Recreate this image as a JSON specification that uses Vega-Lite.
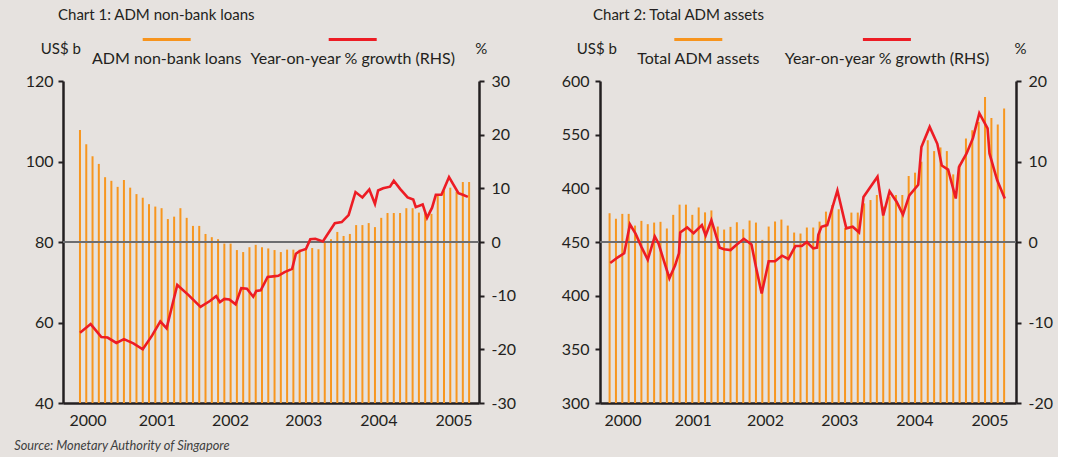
{
  "$schema": "https://vega.github.io/schema/vega-lite/v6.json",
  "background": "#e6e2df",
  "padding": {"left": 13, "top": 8, "right": 5, "bottom": 5},
  "config": {
    "view": {"stroke": null},
    "font": "Lato",
    "title": {"anchor": "start", "frame": "group", "fontSize": 15, "fontWeight": "normal", "color": "#231f20", "font": "Lato"},
    "axis": {"grid": false, "domainColor": "#231f20", "domainWidth": 2.5, "tickColor": "#231f20", "tickWidth": 2, "tickSize": 5, "labelFontSize": 16, "labelColor": "#231f20", "labelFont": "Lato", "titleFont": "Lato", "titleFontWeight": "normal", "titleFontSize": 15, "titleColor": "#231f20", "labelFlush": false, "labelOverlap": false},
    "legend": {"labelFont": "Lato", "labelFontSize": 16, "labelColor": "#231f20", "labelLimit": 400}
  },
  "resolve": {"scale": {"fill": "independent", "stroke": "independent"}, "legend": {"fill": "independent", "stroke": "independent"}},
  "datasets": {
    "loans": [
      {"t":0,"v":107.8},{"t":1,"v":104.3},{"t":2,"v":101.3},{"t":3,"v":99.4},{"t":4,"v":96.1},{"t":5,"v":95.2},{"t":6,"v":93.7},{"t":7,"v":95.4},{"t":8,"v":93.5},{"t":9,"v":91.9},
      {"t":10,"v":91.0},{"t":11,"v":89.4},{"t":12,"v":88.8},{"t":13,"v":88.4},{"t":14,"v":85.7},{"t":15,"v":86.3},{"t":16,"v":88.4},{"t":17,"v":86.0},{"t":18,"v":84.0},{"t":19,"v":84.0},
      {"t":20,"v":82.0},{"t":21,"v":81.2},{"t":22,"v":80.7},{"t":23,"v":79.6},{"t":24,"v":79.6},{"t":25,"v":78.0},{"t":26,"v":77.5},{"t":27,"v":78.7},{"t":28,"v":79.3},{"t":29,"v":78.7},
      {"t":30,"v":78.4},{"t":31,"v":78.0},{"t":32,"v":77.5},{"t":33,"v":78.1},{"t":34,"v":78.1},{"t":35,"v":78.1},{"t":36,"v":78.3},{"t":37,"v":78.5},{"t":38,"v":78.2},{"t":39,"v":79.8},
      {"t":40,"v":80.7},{"t":41,"v":82.5},{"t":42,"v":81.5},{"t":43,"v":82.0},{"t":44,"v":84.2},{"t":45,"v":84.2},{"t":46,"v":84.7},{"t":47,"v":83.7},{"t":48,"v":86.0},{"t":49,"v":87.2},
      {"t":50,"v":87.2},{"t":51,"v":87.2},{"t":52,"v":88.4},{"t":53,"v":88.4},{"t":54,"v":87.3},{"t":55,"v":87.5},{"t":56,"v":87.0},{"t":57,"v":91.7},{"t":58,"v":92.8},{"t":59,"v":93.5},
      {"t":60,"v":92.5},{"t":61,"v":94.9},{"t":62,"v":94.9}
    ],
    "loansG": [
      {"t":0.0,"g":-16.9},{"t":1.7,"g":-15.3},{"t":3.4,"g":-17.7},{"t":4.4,"g":-17.8},{"t":5.8,"g":-18.8},{"t":7.0,"g":-18.1},{"t":8.5,"g":-18.9},{"t":10.0,"g":-20.0},{"t":11.5,"g":-17.4},{"t":12.8,"g":-14.8},
      {"t":13.8,"g":-16.1},{"t":15.5,"g":-8.0},{"t":17.3,"g":-9.9},{"t":19.2,"g":-12.1},{"t":20.7,"g":-11.0},{"t":21.7,"g":-10.1},{"t":22.3,"g":-11.2},{"t":23.0,"g":-10.6},{"t":23.8,"g":-10.7},{"t":24.8,"g":-11.6},
      {"t":25.7,"g":-8.6},{"t":26.6,"g":-8.7},{"t":27.6,"g":-10.2},{"t":28.1,"g":-9.1},{"t":28.8,"g":-9.0},{"t":29.9,"g":-6.5},{"t":30.8,"g":-6.4},{"t":31.6,"g":-6.3},{"t":32.6,"g":-5.6},{"t":33.8,"g":-5.0},
      {"t":34.4,"g":-2.2},{"t":35.0,"g":-1.7},{"t":36.0,"g":-1.3},{"t":36.7,"g":0.5},{"t":37.5,"g":0.6},{"t":38.7,"g":0.1},{"t":40.6,"g":3.5},{"t":41.7,"g":3.7},{"t":42.8,"g":5.0},{"t":43.9,"g":9.3},
      {"t":45.0,"g":8.3},{"t":46.1,"g":9.8},{"t":47.0,"g":7.1},{"t":47.5,"g":9.6},{"t":48.3,"g":10.0},{"t":49.4,"g":10.3},{"t":50.0,"g":11.4},{"t":51.0,"g":9.9},{"t":52.2,"g":8.3},{"t":53.1,"g":7.9},
      {"t":53.5,"g":6.5},{"t":54.6,"g":7.0},{"t":55.3,"g":4.5},{"t":56.1,"g":6.4},{"t":56.7,"g":8.8},{"t":57.6,"g":8.8},{"t":58.8,"g":12.1},{"t":60.3,"g":9.1},{"t":61.0,"g":8.8},{"t":61.8,"g":8.4}
    ],
    "assets": [
      {"t":0,"v":476.8},{"t":1,"v":471.6},{"t":2,"v":476.2},{"t":3,"v":476.2},{"t":4,"v":465.3},{"t":5,"v":469.7},{"t":6,"v":466.6},{"t":7,"v":468.1},{"t":8,"v":468.8},{"t":9,"v":462.6},
      {"t":10,"v":475.3},{"t":11,"v":484.8},{"t":12,"v":484.8},{"t":13,"v":475.3},{"t":14,"v":482.2},{"t":15,"v":477.6},{"t":16,"v":479.4},{"t":17,"v":464.4},{"t":18,"v":461.6},{"t":19,"v":464.1},
      {"t":20,"v":468.4},{"t":21,"v":461.9},{"t":22,"v":470.0},{"t":23,"v":468.1},{"t":24,"v":452.0},{"t":25,"v":464.4},{"t":26,"v":469.1},{"t":27,"v":470.9},{"t":28,"v":465.3},{"t":29,"v":458.8},
      {"t":30,"v":457.9},{"t":31,"v":463.5},{"t":32,"v":463.5},{"t":33,"v":469.0},{"t":34,"v":478.3},{"t":35,"v":484.5},{"t":36,"v":480.5},{"t":37,"v":463.0},{"t":38,"v":477.4},{"t":39,"v":477.4},
      {"t":40,"v":486.0},{"t":41,"v":489.1},{"t":42,"v":493.8},{"t":43,"v":483.0},{"t":44,"v":492.3},{"t":45,"v":493.8},{"t":46,"v":493.8},{"t":47,"v":511.5},{"t":48,"v":514.6},{"t":49,"v":524.8},
      {"t":50,"v":544.9},{"t":51,"v":534.7},{"t":52,"v":538.1},{"t":53,"v":534.7},{"t":54,"v":513.0},{"t":55,"v":522.3},{"t":56,"v":546.4},{"t":57,"v":554.2},{"t":58,"v":561.9},{"t":59,"v":585.1},
      {"t":60,"v":565.6},{"t":61,"v":559.4},{"t":62,"v":574.3}
    ],
    "assetsG": [
      {"t":0.1,"g":-2.6},{"t":1.3,"g":-1.9},{"t":2.3,"g":-1.4},{"t":3.2,"g":2.2},{"t":4.1,"g":1.0},{"t":5.0,"g":-0.6},{"t":6.0,"g":-2.2},{"t":7.1,"g":0.7},{"t":7.7,"g":-0.2},{"t":8.4,"g":-2.0},
      {"t":9.4,"g":-4.5},{"t":10.3,"g":-2.9},{"t":10.9,"g":-1.4},{"t":11.1,"g":1.2},{"t":12.2,"g":1.8},{"t":13.2,"g":1.1},{"t":14.5,"g":2.1},{"t":15.1,"g":0.8},{"t":16.0,"g":2.7},{"t":16.5,"g":1.4},
      {"t":17.3,"g":-0.7},{"t":18.0,"g":-0.9},{"t":19.0,"g":-1.0},{"t":20.0,"g":-0.3},{"t":21.1,"g":0.4},{"t":22.3,"g":-0.3},{"t":23.0,"g":-3.1},{"t":23.9,"g":-6.4},{"t":25.0,"g":-2.4},{"t":26.0,"g":-2.4},
      {"t":27.1,"g":-1.7},{"t":28.1,"g":-2.1},{"t":29.2,"g":-0.5},{"t":30.2,"g":-0.5},{"t":31.0,"g":0.0},{"t":32.0,"g":-0.8},{"t":32.6,"g":-0.7},{"t":32.8,"g":0.9},{"t":33.3,"g":1.9},{"t":34.2,"g":2.1},
      {"t":35.8,"g":6.4},{"t":37.2,"g":1.7},{"t":38.2,"g":1.9},{"t":39.2,"g":1.2},{"t":39.9,"g":5.6},{"t":42.1,"g":8.1},{"t":43.0,"g":3.3},{"t":44.0,"g":6.3},{"t":45.1,"g":5.0},{"t":46.1,"g":3.4},
      {"t":47.1,"g":5.8},{"t":48.5,"g":7.1},{"t":49.0,"g":11.8},{"t":50.3,"g":14.3},{"t":51.5,"g":12.2},{"t":52.2,"g":9.5},{"t":53.2,"g":9.0},{"t":54.4,"g":5.4},{"t":54.9,"g":9.3},{"t":56.1,"g":11.0},
      {"t":57.1,"g":12.9},{"t":58.1,"g":16.0},{"t":59.4,"g":14.1},{"t":59.7,"g":11.0},{"t":60.9,"g":7.7},{"t":62.1,"g":5.4}
    ]
  },
  "spacing": 121,
  "bounds": "flush",
  "hconcat": [
    {
      "width": 416,
      "height": 322,
      "title": {"text": "Chart 1: ADM non-bank loans", "dx": -5, "offset": 10},
      "layer": [
        {
          "data": {"name": "loans"},
          "layer": [
            {
              "mark": {"type": "bar", "width": 2, "color": "#f7961f"},
              "encoding": {
                "x": {"field": "t", "type": "quantitative", "scale": {"domain": [-1.91, 62.78], "nice": false, "zero": false},
                      "axis": {"values": [1.2, 12.24, 23.9, 35.57, 47.54, 59.51], "labelExpr": "'' + (2000 + round(datum.value / 12))", "ticks": false, "labelPadding": 9,
                               "title": "Source: Monetary Authority of Singapore", "titleX": -49.3, "titleY": 42, "titleAlign": "left", "titleBaseline": "middle", "titleFontStyle": "italic", "titleFontSize": 12.8, "titleColor": "#404040"}},
                "y": {"field": "v", "type": "quantitative", "scale": {"domain": [40, 120], "nice": false, "zero": false},
                      "axis": {"values": [40, 60, 80, 100, 120], "labelPadding": 5, "title": "US$ b", "titleAngle": 0, "titleX": -2.7, "titleY": -33, "titleAlign": "center", "titleBaseline": "middle"}},
                "y2": {"datum": 40},
                "fill": {"datum": "ADM non-bank loans", "scale": {"range": ["#f7961f"]},
                         "legend": {"orient": "none", "legendX": 78.2, "legendY": -47.8, "title": null, "symbolType": "M-1,-0.8L1,-0.8", "symbolSize": 2304, "symbolStrokeColor": "#f7941d", "symbolStrokeWidth": 3, "labelAlign": "center", "labelOffset": -25.5}}
              }
            },
            {
              "mark": {"type": "rule", "color": "#6d6e70", "strokeWidth": 1.5},
              "encoding": {"y": {"datum": 80}}
            }
          ]
        },
        {
          "data": {"name": "loansG"},
          "mark": {"type": "line", "strokeWidth": 2.6},
          "encoding": {
            "x": {"field": "t", "type": "quantitative", "scale": {"domain": [-1.91, 62.78], "nice": false, "zero": false}},
            "y": {"field": "g", "type": "quantitative", "scale": {"domain": [-30, 30], "nice": false},
                  "axis": {"orient": "right", "values": [-30, -20, -10, 0, 10, 20, 30], "labelExpr": "'' + datum.value", "labelPadding": 7, "title": "%", "titleAngle": 0, "titleX": 1.7, "titleY": -33, "titleAlign": "center", "titleBaseline": "middle"}},
            "stroke": {"datum": "Year-on-year % growth (RHS)", "scale": {"range": ["#ed1c24"]},
                       "legend": {"orient": "none", "legendX": 264.2, "legendY": -47.8, "title": null, "symbolType": "M-1,-0.8L1,-0.8", "symbolSize": 2304, "symbolStrokeWidth": 3, "labelAlign": "center", "labelOffset": -25.5}}
          }
        }
      ],
      "resolve": {"scale": {"y": "independent"}}
    },
    {
      "width": 416,
      "height": 322,
      "title": {"text": "Chart 2: Total ADM assets", "dx": -7, "offset": 10},
      "layer": [
        {
          "data": {"name": "assets"},
          "layer": [
            {
              "mark": {"type": "bar", "width": 2, "color": "#f7961f"},
              "encoding": {
                "x": {"field": "t", "type": "quantitative", "scale": {"domain": [-0.72, 63.08], "nice": false, "zero": false},
                      "axis": {"values": [2.04, 13.08, 24.43, 36.09, 47.9, 59.7], "labelExpr": "'' + (2000 + round(datum.value / 12))", "ticks": false, "labelPadding": 9, "title": null}},
                "y": {"field": "v", "type": "quantitative", "scale": {"domain": [300, 600], "nice": false, "zero": false},
                      "axis": {"values": [300, 350, 400, 450, 500, 550, 600], "labelExpr": "datum.value == 500 ? '400' : datum.label", "labelPadding": 6, "title": "US$ b", "titleAngle": 0, "titleX": -3.7, "titleY": -33, "titleAlign": "center", "titleBaseline": "middle"}},
                "y2": {"datum": 300},
                "fill": {"datum": "Total ADM assets", "scale": {"range": ["#f7961f"]},
                         "legend": {"orient": "none", "legendX": 72.8, "legendY": -47.8, "title": null, "symbolType": "M-1,-0.8L1,-0.8", "symbolSize": 2304, "symbolStrokeColor": "#f7941d", "symbolStrokeWidth": 3, "labelAlign": "center", "labelOffset": -25.5}}
              }
            },
            {
              "mark": {"type": "rule", "color": "#6d6e70", "strokeWidth": 1.5},
              "encoding": {"y": {"datum": 450}}
            }
          ]
        },
        {
          "data": {"name": "assetsG"},
          "mark": {"type": "line", "strokeWidth": 2.6},
          "encoding": {
            "x": {"field": "t", "type": "quantitative", "scale": {"domain": [-0.72, 63.08], "nice": false, "zero": false}},
            "y": {"field": "g", "type": "quantitative", "scale": {"domain": [-20, 20], "nice": false},
                  "axis": {"orient": "right", "values": [-20, -10, 0, 10, 20], "labelExpr": "'' + datum.value", "labelPadding": 7, "title": "%", "titleAngle": 0, "titleX": 4, "titleY": -33, "titleAlign": "center", "titleBaseline": "middle"}},
            "stroke": {"datum": "Year-on-year % growth (RHS)", "scale": {"range": ["#ed1c24"]},
                       "legend": {"orient": "none", "legendX": 261.4, "legendY": -47.8, "title": null, "symbolType": "M-1,-0.8L1,-0.8", "symbolSize": 2304, "symbolStrokeWidth": 3, "labelAlign": "center", "labelOffset": -25.5}}
          }
        }
      ],
      "resolve": {"scale": {"y": "independent"}}
    }
  ]
}
